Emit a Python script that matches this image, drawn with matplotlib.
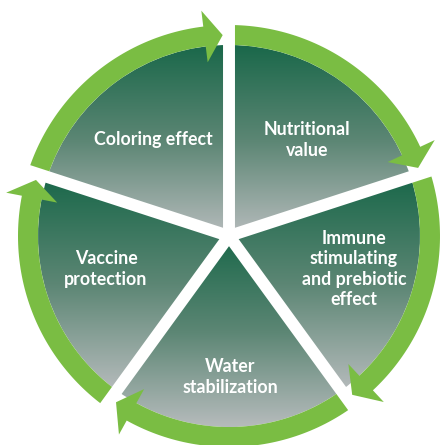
import numpy as np
import matplotlib
matplotlib.use("Agg")
import matplotlib.pyplot as plt
from matplotlib.patches import Polygon
from matplotlib.colors import to_rgb

# segments in clockwise order starting at 12 o'clock
labels = ["Nutritional\nvalue",
          "Immune\nstimulating\nand prebiotic\neffect",
          "Water\nstabilization",
          "Vaccine\nprotection",
          "Coloring effect"]
shares = [1, 1, 1, 1, 1]
label_pos = [(307, 305), (354, 176), (230, 68), (106, 176), (153, 305)]

top_col = "#1a684a"
mid_col = "#5c8674"
bot_col = "#b6bbbc"
arrow_col = "#7abd43"

cx, cy = 229, 209
R = 191
ring_in, ring_out = 191, 211

plt.rcParams['font.family'] = ['Lato', 'DejaVu Sans']

fig = plt.figure(figsize=(4.4, 4.45), dpi=100)
ax = fig.add_axes([0, 0, 1, 1])

wedges, _ = ax.pie(shares, radius=R, center=(cx, cy), startangle=90,
                   counterclock=False, frame=True,
                   wedgeprops=dict(facecolor="none", edgecolor="none"))

# vertical gradient for each slice
t = np.linspace(0, 1, 256)
c0, c1, c2 = (np.array(to_rgb(c)) for c in (top_col, mid_col, bot_col))
grad = np.where(t[:, None] < 0.5,
                c0 + (c1 - c0) * (t[:, None] / 0.5),
                c1 + (c2 - c1) * ((t[:, None] - 0.5) / 0.5))
grad = grad[:, None, :]

for w in wedges:
    ext = w.get_path().get_extents()
    im = ax.imshow(grad, extent=(ext.x0, ext.x1, ext.y0, ext.y1),
                   origin="upper", aspect="auto", interpolation="bilinear",
                   zorder=1)
    im.set_clip_path(w)

# circular arrows around each slice
mid = (ring_in + ring_out) / 2
for w in wedges:
    a_start, a_end = w.theta2, w.theta1   # clockwise: from theta2 down to theta1
    base = a_end + 7
    tip = a_end + 1.8
    th = np.radians(np.linspace(a_start, base, 60))
    outer = np.c_[cx + ring_out * np.cos(th), cy + ring_out * np.sin(th)]
    inner = np.c_[cx + ring_in * np.cos(th), cy + ring_in * np.sin(th)][::-1]
    b, tp = np.radians(base), np.radians(tip)
    head = np.array([
        [cx + (mid + 26) * np.cos(b), cy + (mid + 26) * np.sin(b)],
        [cx + mid * np.cos(tp), cy + mid * np.sin(tp)],
        [cx + (mid - 26) * np.cos(b), cy + (mid - 26) * np.sin(b)],
    ])
    pts = np.vstack([outer, head, inner])
    ax.add_patch(Polygon(pts, closed=True, facecolor=arrow_col,
                         edgecolor="none", zorder=2))

# white separators between slices
for w in wedges:
    a = np.radians(w.theta2)
    ax.plot([cx, cx + 240 * np.cos(a)], [cy, cy + 240 * np.sin(a)],
            color="white", lw=8.6, solid_capstyle="butt", zorder=3)

for txt, (x, y) in zip(labels, label_pos):
    ax.text(x, y, txt, color="white", fontsize=12.8, fontweight="bold",
            ha="center", va="center", linespacing=1.22, zorder=4)

ax.set_xlim(0, 440)
ax.set_ylim(0, 445)
ax.set_aspect("auto")
ax.axis("off")

fig.savefig("out.png", dpi=100, facecolor="white")
